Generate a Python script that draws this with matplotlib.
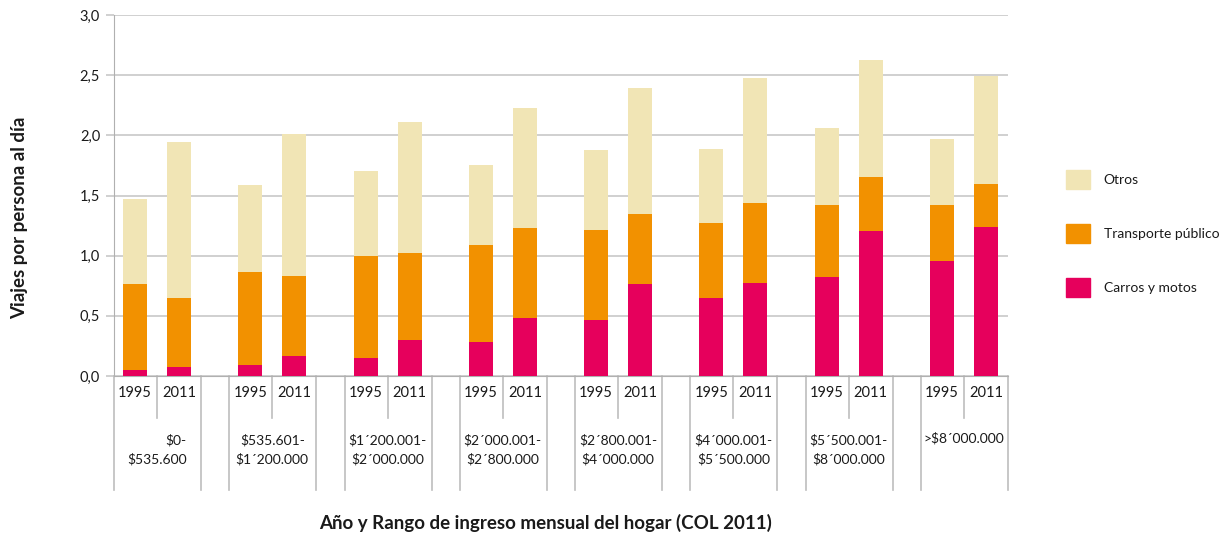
from matplotlib import pyplot as plt
from matplotlib.patches import Patch
from matplotlib import transforms

plt.rcParams['font.family'] = ['Lato', 'DejaVu Sans']

# Data: trips per person per day by income range and year.
years = ['1995', '2011']
groups = ['$0-\n$535.600', '$535.601-\n$1´200.000', '$1´200.001-\n$2´000.000',
          '$2´000.001-\n$2´800.000', '$2´800.001-\n$4´000.000',
          '$4´000.001-\n$5´500.000', '$5´500.001-\n$8´000.000', '>$8´000.000']

# Cumulative tops, order: group1 1995, group1 2011, ...
carros_top = [0.05, 0.075, 0.09, 0.165, 0.15, 0.30, 0.283, 0.482,
              0.468, 0.765, 0.648, 0.773, 0.823, 1.205, 0.956, 1.238]
transporte_top = [0.765, 0.65, 0.865, 0.83, 1.0, 1.02, 1.089, 1.23,
                  1.213, 1.347, 1.272, 1.438, 1.422, 1.654, 1.422, 1.596]
total_top = [1.47, 1.945, 1.59, 2.01, 1.70, 2.11, 1.754, 2.228,
             1.88, 2.394, 1.887, 2.477, 2.062, 2.627, 1.970, 2.494]

yticks = [0.0, 0.5, 1.0, 1.5, 2.0, 2.5, 3.0]
ytick_labels = ['0,0', '0,5', '1,0', '1,5', '2,0', '2,5', '3,0']

carros = carros_top
transporte = [t - c for t, c in zip(transporte_top, carros_top)]
otros = [t - p for t, p in zip(total_top, transporte_top)]

c_otros = '#F1E5B5'
c_trans = '#F29100'
c_carros = '#E6005C'
grid_c = '#C8C8C8'
text_c = '#1a1a1a'

# Positions: each group has two bars, with a gap between groups.
period = 2.62
x = []
for g in range(len(groups)):
    for s in range(len(years)):
        x.append(g * period + s)

fig = plt.figure(figsize=(12.31, 5.39), dpi=100)
ax = fig.add_axes([114 / 1231, 1 - 376 / 539, (1008 - 114) / 1231, 361 / 539])

width = 0.545
ax.bar(x, carros, width, color=c_carros, zorder=3)
ax.bar(x, transporte, width, bottom=carros, color=c_trans, zorder=3)
ax.bar(x, otros, width, bottom=transporte_top, color=c_otros, zorder=3)

ax.set_ylim(0, 3.0)
ax.set_xlim(-0.477, (len(groups) - 1) * period + 1.5)
ax.set_yticks(yticks)
ax.set_yticklabels(ytick_labels)
ax.yaxis.grid(True, color=grid_c, linewidth=1.2, zorder=0)
ax.tick_params(axis='y', length=6, color=grid_c, width=1.2, pad=4,
               labelsize=10.5, labelcolor=text_c)
ax.set_xticks([])
for side in ['top', 'right']:
    ax.spines[side].set_visible(False)
ax.spines['left'].set_color('#B0B0B0')
ax.spines['bottom'].set_color('#B0B0B0')
ax.spines['left'].set_zorder(4)

# Multi-level category axis below the plot.
trans = transforms.blended_transform_factory(ax.transData, ax.transAxes)
long_end = -0.316
short_end = -0.116
for g in range(len(groups)):
    c0 = g * period
    for lx, ly in [(c0 - 0.477, long_end), (c0 + 0.5, short_end), (c0 + 1.5, long_end)]:
        ax.plot([lx, lx], [0, ly], color='#BDBDBD', linewidth=1.2,
                transform=trans, clip_on=False)
    for s, yr in enumerate(years):
        ax.text(c0 + s, -0.047, yr, transform=trans, ha='center', va='center',
                fontsize=10.5, color=text_c)
    if '\n' in groups[g]:
        ax.text(c0 + 0.5, -0.205, groups[g], transform=trans, ha='center',
                va='center', fontsize=10, color=text_c, linespacing=1.6,
                multialignment='right' if g == 0 else 'center')
    else:
        ax.text(c0 + 0.5, -0.172, groups[g], transform=trans, ha='center',
                va='center', fontsize=10, color=text_c)

# Axis titles.
fig.text(20 / 1231, 1 - 218 / 539, 'Viajes por persona al día', rotation=90,
         ha='center', va='center', fontsize=13.5, fontweight='bold', color=text_c)
fig.text(546 / 1231, 1 - 523 / 539, 'Año y Rango de ingreso mensual del hogar (COL 2011)',
         ha='center', va='center', fontsize=13.5, fontweight='bold', color=text_c)

# Legend.
handles = [Patch(color=c_otros), Patch(color=c_trans), Patch(color=c_carros)]
labels = ['Otros', 'Transporte público', 'Carros y motos']
fig.legend(handles, labels, loc='upper left', bbox_to_anchor=(1066 / 1231, 1 - 170 / 539),
           frameon=False, fontsize=10, handlelength=1.75, handleheight=1.75,
           handletextpad=0.95, labelspacing=2.5, borderpad=0, borderaxespad=0,
           labelcolor=text_c)

fig.savefig('out.png', dpi=100)
